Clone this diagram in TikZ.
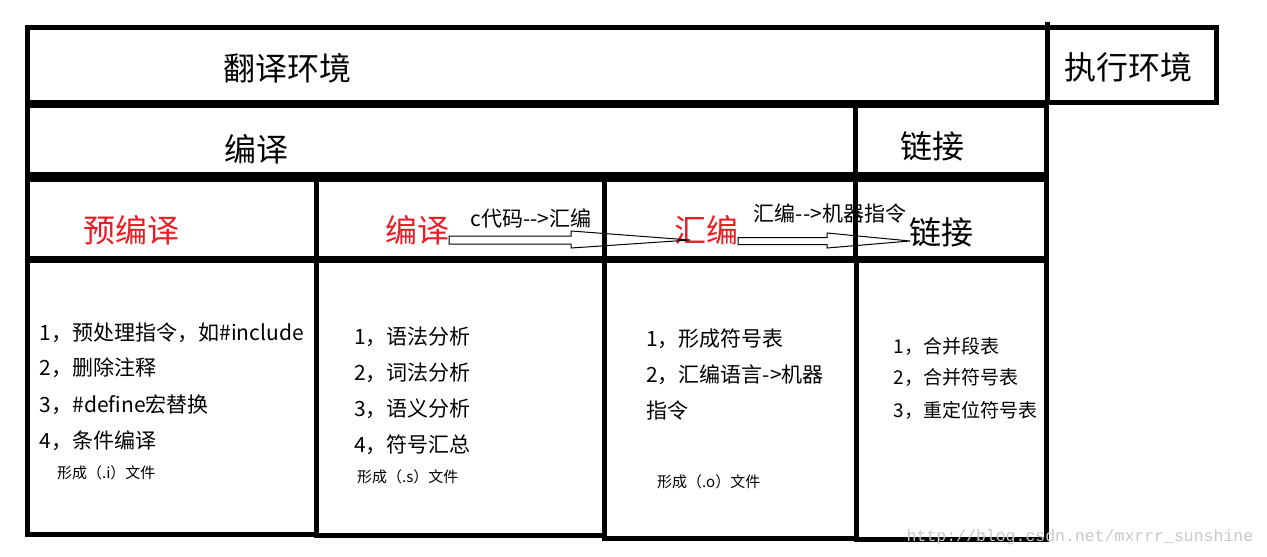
\documentclass[tikz,border=0pt]{standalone}
\usepackage{fontspec}
\setmainfont{Noto Sans CJK SC}
\newfontfamily\wmfont{Liberation Mono}
\usetikzlibrary{calc}
\definecolor{pred}{RGB}{237,28,36}
\begin{document}
\begin{tikzpicture}[x=1pt,y=-1pt,
  cell/.style={draw=black,line width=5pt},
  big/.style={inner sep=0pt,font=\fontsize{32}{38}\selectfont},
  redbig/.style={big,text=pred},
  mid/.style={inner sep=0pt,font=\fontsize{21}{25}\selectfont},
  item/.style={inner sep=0pt,anchor=west,font=\fontsize{21}{25}\selectfont},
  itemb/.style={inner sep=0pt,anchor=west,font=\fontsize{19}{23}\selectfont},
  small/.style={inner sep=0pt,anchor=west,font=\fontsize{15}{18}\selectfont},
  hollow/.style={draw=black,line width=1pt,line join=miter}]
\useasboundingbox (0,0) rectangle (1267,557);
% row 1
\draw[cell] (27,27.5) rectangle (1047,102.5);
\draw[cell] (1047,27.5) rectangle (1216,102.5);
\draw[line width=5pt] (1047,22) -- (1047,30);
% row 2
\draw[cell] (27,105.5) rectangle (855,174.5);
\draw[cell] (855,105.5) rectangle (1046,174.5);
% row 3
\draw[cell] (27,179) rectangle (316,258.5);
\draw[cell] (316,179) rectangle (604,258.5);
\draw[cell] (604,179) rectangle (855,258.5);
\draw[cell] (855,179) rectangle (1046,258.5);
% row 4
\draw[cell] (27,260) rectangle (316,534);
\draw[cell] (316,260) rectangle (604,535);
\draw[cell] (604,260) rectangle (856,538.5);
\draw[cell] (856,260) rectangle (1046,539);
% headers
\node[big] (fy) at (287,68) {翻译环境};
\node[big] (zx) at (1128,67) {执行环境};
\node[big] (by) at (256,149) {编译};
\node[big] (lj) at (932,146) {链接};
\node[redbig] (ybk) at (131,230) {预编译};
\node[redbig] (byk) at (417,230) {编译};
\node[redbig] (hbk) at (706,230) {汇编};
\node[big] (ljk) at (941,232) {链接};
\node[mid] (l1) at (531,218) {c代码-{}-{}>汇编};
\node[mid] (l2) at (830,214) {汇编-{}-{}>机器指令};
% column 1
\node[item] (c1a) at (39.6,332.7) {1，预处理指令，如\#include};
\node[item] (c1b) at (39.6,368) {2，删除注释};
\node[item] (c1c) at (39.6,405) {3，\#define宏替换};
\node[item] (c1d) at (39.6,440.7) {4，条件编译};
\node[small] (c1e) at (57,472.7) {形成（.i）文件};
% column 2
\node[item] (c2a) at (354,337) {1，语法分析};
\node[item] (c2b) at (354,373) {2，词法分析};
\node[item] (c2c) at (354,409) {3，语义分析};
\node[item] (c2d) at (354,445) {4，符号汇总};
\node[small] (c2e) at (357,477) {形成（.s）文件};
% column 3
\node[item] (c3a) at (646,339) {1，形成符号表};
\node[item] (c3b) at (646,375) {2，汇编语言-{}>机器};
\node[item] (c3c) at (646,410.7) {指令};
\node[small] (c3e) at (657,482) {形成（.o）文件};
% column 4
\node[itemb] (c4a) at (893.6,346) {1，合并段表};
\node[itemb] (c4b) at (893.6,378) {2，合并符号表};
\node[itemb] (c4c) at (893.6,410.7) {3，重定位符号表};
% arrows
\coordinate (a1s) at (byk.east);
\coordinate (a1e) at (690,240);
\draw[hollow] ($(a1s|-a1e)+(0,-4)$) -- ($(a1s|-a1e)+(122,-4)$) -- ($(a1s|-a1e)+(122,-9)$) -- (a1e)
  -- ($(a1s|-a1e)+(122,8)$) -- ($(a1s|-a1e)+(122,4)$) -- ($(a1s|-a1e)+(0,4)$) -- cycle;
\coordinate (a2s) at (hbk.east);
\coordinate (a2e) at (910,241);
\draw[hollow] ($(a2s|-a2e)+(0,-3.5)$) -- ($(a2s|-a2e)+(89,-3.5)$) -- ($(a2s|-a2e)+(89,-8)$) -- (a2e)
  -- ($(a2s|-a2e)+(89,7)$) -- ($(a2s|-a2e)+(89,3.5)$) -- ($(a2s|-a2e)+(0,3.5)$) -- cycle;
% watermark
\node[inner sep=0pt,text=black!22,font=\wmfont\fontsize{16.5}{18}\selectfont] (wm) at (1080,537) {http://blog.csdn.net/mxrrr\_sunshine};
\end{tikzpicture}
\end{document}
